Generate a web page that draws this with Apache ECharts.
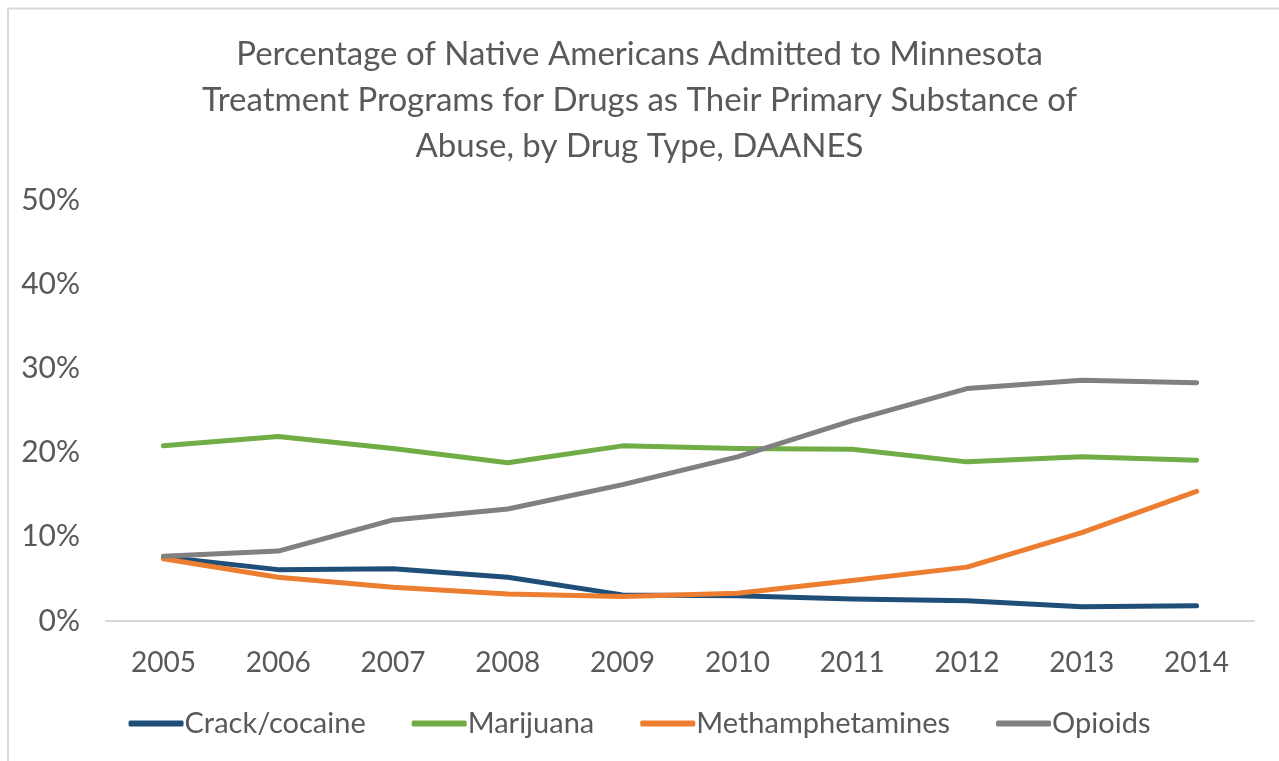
<!DOCTYPE html>
<html>
<head>
<meta charset="utf-8">
<script src="https://cdn.jsdelivr.net/npm/echarts@6/dist/echarts.min.js"></script>
<style>html,body{margin:0;padding:0;background:#fff}#c{width:1279px;height:761px}</style>
</head>
<body>
<div id="c"></div>
<script>
const years = ['2005','2006','2007','2008','2009','2010','2011','2012','2013','2014'];
const crack = [7.6, 6.1, 6.2, 5.2, 3.1, 3.0, 2.6, 2.4, 1.7, 1.8];
const marijuana = [20.8, 21.9, 20.5, 18.8, 20.8, 20.5, 20.4, 18.9, 19.5, 19.1];
const meth = [7.4, 5.2, 4.0, 3.2, 2.9, 3.3, 4.8, 6.4, 10.5, 15.4];
const opioids = [7.7, 8.3, 12.0, 13.3, 16.2, 19.5, 23.8, 27.6, 28.6, 28.3];
const seriesNames = ['Crack/cocaine','Marijuana','Methamphetamines','Opioids'];
const colors = ['#1f4e79','#70ad47','#ed7d31','#808080'];
const titleText = 'Percentage of Native Americans Admitted to Minnesota\nTreatment Programs for Drugs as Their Primary Substance of\nAbuse, by Drug Type, DAANES';

const font = 'Lato, "Open Sans", sans-serif';
const chart = echarts.init(document.getElementById('c'), null, {renderer:'canvas'});
const datas = [crack, marijuana, meth, opioids];
chart.setOption({
  animation: false,
  color: colors,
  title: {
    text: titleText,
    left: 'center', top: 26,
    textStyle: {fontFamily: font, fontSize: 33, fontWeight: 'normal', color: '#595959', lineHeight: 46}
  },
  legend: {
    bottom: 18, left: 'center', itemWidth: 55, itemHeight: 6, itemGap: 46,
    icon: 'roundRect',
    textStyle: {fontFamily: font, fontSize: 29, color: '#595959', padding:[0,0,0,-4]},
    data: seriesNames
  },
  grid: {left: 106, right: 25, top: 200, bottom: 140},
  xAxis: {
    type: 'category', data: years, boundaryGap: true,
    axisLine: {lineStyle: {color: '#d9d9d9', width: 2}},
    axisTick: {show: false},
    axisLabel: {fontFamily: font, fontSize: 28, color: '#595959', margin: 28}
  },
  yAxis: {
    type: 'value', min: 0, max: 50, interval: 10,
    axisLine: {show: false}, axisTick: {show: false},
    splitLine: {show: false},
    axisLabel: {fontFamily: font, fontSize: 30, color: '#595959', margin: 26, formatter: '{value}%'}
  },
  graphic: [
    {type:'line', shape:{x1:7, y1:8.5, x2:1279, y2:8.5}, style:{stroke:'#d9d9d9', lineWidth:2}},
    {type:'line', shape:{x1:8, y1:8, x2:8, y2:761}, style:{stroke:'#d9d9d9', lineWidth:2}}
  ],
  series: seriesNames.map((n,i)=>({
    name: n, type: 'line', data: datas[i], symbol: 'none',
    lineStyle: {width: 5, cap: 'round', join: 'round'}
  }))
});
</script>
</body>
</html>
